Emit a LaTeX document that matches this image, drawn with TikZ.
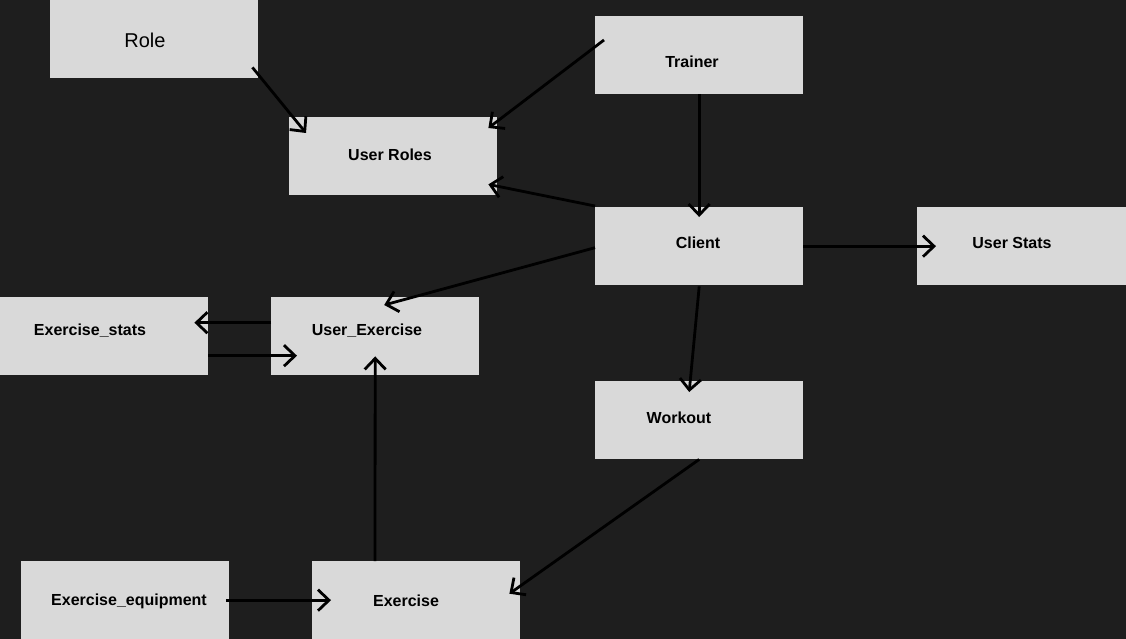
\documentclass[tikz,border=0pt]{standalone}
\usepackage{fontspec}
\setmainfont{Liberation Sans}
\usetikzlibrary{arrows.meta}
\definecolor{bgdark}{HTML}{1E1E1E}
\definecolor{boxgray}{HTML}{D9D9D9}
\tikzstyle{tablebox}=[fill=boxgray,minimum width=208pt,minimum height=78pt,inner sep=0pt,anchor=north west]
\tikzstyle{tablename}=[font=\bfseries\fontsize{16}{18}\selectfont,text=black]
\tikzstyle{link}=[line width=2.8pt,-{Straight Barb[length=11pt,width=21pt,line width=2.8pt]}]

\begin{document}
\begin{tikzpicture}[x=1pt,y=-1pt]
      \fill[bgdark] (0,0) rectangle (1126,639);
      \useasboundingbox (0,0) rectangle (1126,639);

      % tables
      \node[tablebox] (role) at (50,0) {};
      \node[tablebox] (trainer) at (595,16) {};
      \node[tablebox] (roles) at (289,117) {};
      \node[tablebox] (client) at (595,207) {};
      \node[tablebox, minimum width=209pt] (stats) at (917,207) {};
      \node[tablebox] (exstats) at (0,297) {};
      \node[tablebox] (userex) at (271,297) {};
      \node[tablebox] (workout) at (595,381) {};
      \node[tablebox] (equip) at (21,561) {};
      \node[tablebox] (exercise) at (312,561) {};

      % names
      \node[font=\fontsize{20}{24}\selectfont,text=black] (roleT) at (145,40) {Role};
      \node[tablename] (trainerT) at (692,62) {Trainer};
      \node[tablename] (rolesT) at (390,155) {User Roles};
      \node[tablename] (clientT) at (698,243) {Client};
      \node[tablename] (statsT) at (1012,243) {User Stats};
      \node[tablename] (exstatsT) at (90,331) {Exercise\_stats};
      \node[tablename] (userexT) at (367,331) {User\_Exercise};
      \node[tablename] (workoutT) at (679,418) {Workout};
      \node[tablename] (equipT) at (129,601) {Exercise\_equipment};
      \node[tablename] (exerciseT) at (406,601) {Exercise};

      % links
      \draw[link] ([shift={(-6,-11)}]role.south east) -- ([shift={(17,16)}]roles.north west);
      \draw[link] ([shift={(9,24)}]trainer.north west) -- ([shift={(-9,11)}]roles.north east);
      \draw[link] ([shift={(0,-1)}]client.north west) -- ([shift={(-9,-11)}]roles.south east);
      \draw[link] (trainer.south) -- ([shift={(0,10)}]client.north);
      \draw[link] (client.east) -- ([shift={(19,0)}]stats.west);
      \draw[link] ([shift={(0,1.5)}]client.west) -- ([shift={(9,8)}]userex.north);
      \draw[link] ([shift={(0,1)}]client.south) -- ([shift={(-10,11)}]workout.north);
      \draw[link] ([shift={(0,-13.5)}]userex.west) -- ([shift={(-14,-13.5)}]exstats.east);
      \draw[link] ([shift={(0,19.5)}]exstats.east) -- ([shift={(26,19.5)}]userex.west);
      \draw[link] ([shift={(63,0)}]exercise.north west) -- ([shift={(0,-19)}]userex.south);
      \draw[link] (workout.south) -- ([shift={(-11,-6.5)}]exercise.east);
      \draw[link] ([shift={(-3,0)}]equip.east) -- ([shift={(19,0)}]exercise.west);
\end{tikzpicture}
\end{document}
